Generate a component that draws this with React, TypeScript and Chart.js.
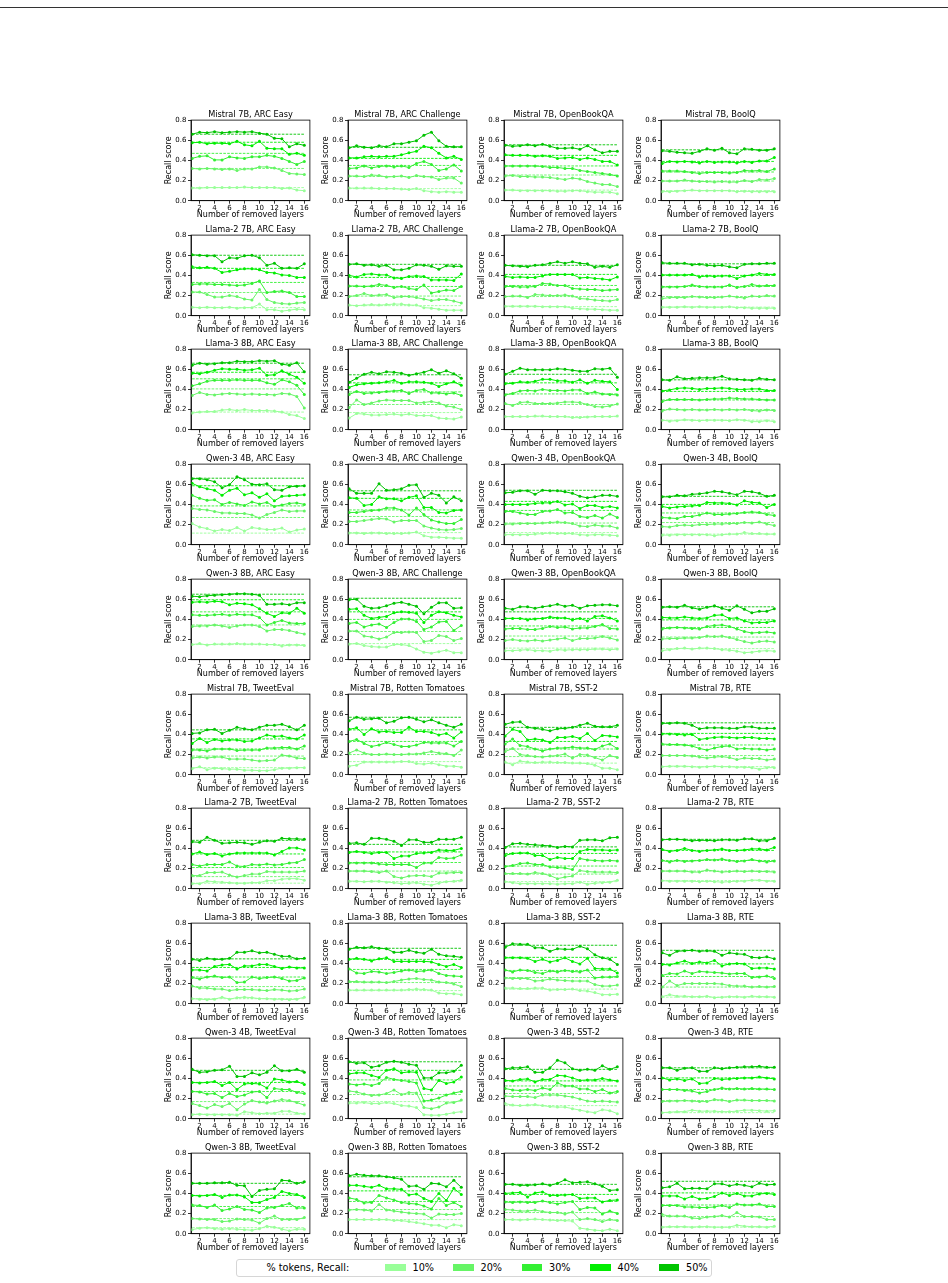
import React, { useEffect, useRef } from 'react';
import { Chart, registerables } from 'chart.js';

Chart.register(...registerables);

// ---- data ----
const layers = [1, 2, 3, 4, 5, 6, 7, 8, 9, 10, 11, 12, 13, 14, 15, 16];
const xTicks = [2, 4, 6, 8, 10, 12, 14, 16];
const yTicks = [0, 0.2, 0.4, 0.6, 0.8];
const tokenShares = ['10%', '20%', '30%', '40%', '50%'];
const models = ['Mistral 7B', 'Llama-2 7B', 'Llama-3 8B', 'Qwen-3 4B', 'Qwen-3 8B'];
const reasoningTasks = ['ARC Easy', 'ARC Challenge', 'OpenBookQA', 'BoolQ'];
const classificationTasks = ['TweetEval', 'Rotten Tomatoes', 'SST-2', 'RTE'];

// each panel: recall per removed-layer count, rows = 10%..50% tokens; *Base = dashed reference level
const mistralArcEasy = [
  [0.125, 0.125, 0.13, 0.13, 0.13, 0.13, 0.13, 0.135, 0.13, 0.13, 0.13, 0.13, 0.12, 0.125, 0.105, 0.1],
  [0.32, 0.315, 0.32, 0.315, 0.31, 0.315, 0.3, 0.315, 0.315, 0.335, 0.335, 0.325, 0.3, 0.27, 0.265, 0.26],
  [0.42, 0.44, 0.445, 0.405, 0.405, 0.435, 0.425, 0.42, 0.435, 0.435, 0.45, 0.44, 0.42, 0.39, 0.36, 0.39],
  [0.575, 0.58, 0.565, 0.57, 0.57, 0.565, 0.59, 0.555, 0.545, 0.59, 0.52, 0.515, 0.515, 0.46, 0.47, 0.45],
  [0.66, 0.68, 0.675, 0.685, 0.675, 0.68, 0.685, 0.68, 0.685, 0.67, 0.66, 0.62, 0.615, 0.535, 0.565, 0.55],
];
const mistralArcEasyBase = [0.13, 0.32, 0.47, 0.58, 0.66];

const mistralArcChallenge = [
  [0.125, 0.125, 0.125, 0.125, 0.12, 0.12, 0.12, 0.115, 0.11, 0.12, 0.1, 0.09, 0.085, 0.09, 0.085, 0.085],
  [0.245, 0.245, 0.24, 0.255, 0.25, 0.235, 0.24, 0.245, 0.23, 0.25, 0.24, 0.235, 0.21, 0.225, 0.225, 0.175],
  [0.32, 0.325, 0.345, 0.325, 0.34, 0.345, 0.335, 0.345, 0.33, 0.37, 0.39, 0.36, 0.3, 0.315, 0.355, 0.295],
  [0.425, 0.425, 0.435, 0.44, 0.435, 0.44, 0.44, 0.455, 0.475, 0.49, 0.54, 0.525, 0.47, 0.425, 0.44, 0.41],
  [0.525, 0.545, 0.53, 0.525, 0.545, 0.535, 0.565, 0.565, 0.58, 0.595, 0.65, 0.68, 0.595, 0.54, 0.535, 0.535],
];
const mistralArcChallengeBase = [0.12, 0.24, 0.35, 0.42, 0.53];

const mistralOpenBookQA = [
  [0.105, 0.105, 0.1, 0.1, 0.1, 0.1, 0.1, 0.095, 0.095, 0.1, 0.1, 0.09, 0.085, 0.085, 0.085, 0.07],
  [0.245, 0.25, 0.24, 0.24, 0.235, 0.235, 0.23, 0.22, 0.21, 0.225, 0.215, 0.19, 0.175, 0.16, 0.16, 0.14],
  [0.345, 0.345, 0.345, 0.345, 0.345, 0.34, 0.33, 0.33, 0.32, 0.32, 0.3, 0.29, 0.28, 0.27, 0.26, 0.245],
  [0.455, 0.45, 0.45, 0.45, 0.44, 0.445, 0.44, 0.42, 0.425, 0.43, 0.41, 0.425, 0.41, 0.39, 0.39, 0.355],
  [0.55, 0.54, 0.545, 0.555, 0.545, 0.56, 0.54, 0.52, 0.52, 0.525, 0.51, 0.545, 0.505, 0.475, 0.49, 0.49],
];
const mistralOpenBookQABase = [0.105, 0.255, 0.345, 0.45, 0.555];

const mistralBoolQ = [
  [0.09, 0.09, 0.095, 0.1, 0.105, 0.1, 0.1, 0.1, 0.1, 0.1, 0.09, 0.095, 0.09, 0.09, 0.09, 0.09],
  [0.195, 0.195, 0.195, 0.205, 0.195, 0.19, 0.19, 0.185, 0.19, 0.185, 0.185, 0.2, 0.19, 0.21, 0.205, 0.22],
  [0.295, 0.295, 0.295, 0.29, 0.28, 0.27, 0.28, 0.28, 0.28, 0.275, 0.28, 0.3, 0.295, 0.3, 0.29, 0.315],
  [0.37, 0.39, 0.385, 0.39, 0.385, 0.375, 0.39, 0.38, 0.385, 0.385, 0.375, 0.39, 0.38, 0.395, 0.395, 0.43],
  [0.495, 0.49, 0.48, 0.475, 0.47, 0.49, 0.515, 0.5, 0.52, 0.475, 0.465, 0.515, 0.51, 0.5, 0.5, 0.515],
];
const mistralBoolQBase = [0.1, 0.195, 0.285, 0.39, 0.505];

const llama2ArcEasy = [
  [0.085, 0.08, 0.085, 0.08, 0.08, 0.085, 0.075, 0.08, 0.08, 0.115, 0.06, 0.06, 0.045, 0.055, 0.065, 0.06],
  [0.235, 0.235, 0.21, 0.185, 0.185, 0.2, 0.19, 0.165, 0.155, 0.26, 0.16, 0.13, 0.12, 0.115, 0.125, 0.13],
  [0.31, 0.315, 0.315, 0.31, 0.31, 0.305, 0.3, 0.305, 0.32, 0.345, 0.23, 0.24, 0.245, 0.23, 0.19, 0.19],
  [0.485, 0.475, 0.48, 0.47, 0.43, 0.44, 0.455, 0.465, 0.465, 0.455, 0.43, 0.425, 0.405, 0.4, 0.38, 0.38],
  [0.605, 0.6, 0.595, 0.595, 0.535, 0.575, 0.57, 0.595, 0.6, 0.575, 0.5, 0.52, 0.47, 0.475, 0.47, 0.515],
];
const llama2ArcEasyBase = [0.08, 0.23, 0.33, 0.47, 0.6];

const llama2ArcChallenge = [
  [0.105, 0.1, 0.105, 0.11, 0.105, 0.11, 0.115, 0.115, 0.105, 0.105, 0.08, 0.075, 0.065, 0.055, 0.055, 0.055],
  [0.19, 0.2, 0.22, 0.2, 0.205, 0.21, 0.18, 0.19, 0.19, 0.18, 0.165, 0.15, 0.16, 0.16, 0.145, 0.125],
  [0.295, 0.295, 0.29, 0.295, 0.31, 0.3, 0.28, 0.29, 0.27, 0.26, 0.305, 0.225, 0.24, 0.255, 0.25, 0.29],
  [0.4, 0.385, 0.41, 0.415, 0.405, 0.405, 0.375, 0.37, 0.39, 0.395, 0.39, 0.355, 0.355, 0.355, 0.35, 0.415],
  [0.51, 0.515, 0.5, 0.505, 0.49, 0.5, 0.455, 0.455, 0.47, 0.505, 0.5, 0.49, 0.46, 0.495, 0.49, 0.49],
];
const llama2ArcChallengeBase = [0.1, 0.195, 0.29, 0.38, 0.51];

const llama2OpenBookQA = [
  [0.095, 0.095, 0.095, 0.095, 0.095, 0.09, 0.09, 0.09, 0.09, 0.075, 0.07, 0.065, 0.065, 0.06, 0.055, 0.055],
  [0.19, 0.195, 0.195, 0.18, 0.21, 0.205, 0.2, 0.2, 0.205, 0.195, 0.17, 0.165, 0.155, 0.15, 0.145, 0.16],
  [0.29, 0.29, 0.285, 0.285, 0.29, 0.32, 0.315, 0.3, 0.3, 0.27, 0.265, 0.26, 0.26, 0.25, 0.255, 0.26],
  [0.39, 0.38, 0.385, 0.38, 0.38, 0.395, 0.41, 0.41, 0.41, 0.41, 0.375, 0.38, 0.37, 0.365, 0.355, 0.385],
  [0.5, 0.495, 0.49, 0.485, 0.5, 0.505, 0.52, 0.535, 0.52, 0.535, 0.52, 0.515, 0.48, 0.49, 0.48, 0.505],
];
const llama2OpenBookQABase = [0.09, 0.19, 0.3, 0.41, 0.5];

const llama2BoolQ = [
  [0.085, 0.085, 0.085, 0.09, 0.085, 0.09, 0.085, 0.085, 0.085, 0.09, 0.08, 0.08, 0.075, 0.075, 0.075, 0.075],
  [0.17, 0.18, 0.18, 0.18, 0.19, 0.185, 0.18, 0.18, 0.185, 0.195, 0.185, 0.175, 0.195, 0.19, 0.2, 0.195],
  [0.285, 0.285, 0.285, 0.29, 0.305, 0.29, 0.285, 0.285, 0.285, 0.305, 0.28, 0.29, 0.31, 0.295, 0.3, 0.3],
  [0.405, 0.405, 0.405, 0.405, 0.41, 0.385, 0.395, 0.39, 0.395, 0.395, 0.37, 0.395, 0.405, 0.42, 0.41, 0.41],
  [0.525, 0.52, 0.52, 0.52, 0.505, 0.51, 0.5, 0.495, 0.5, 0.485, 0.475, 0.51, 0.515, 0.515, 0.52, 0.52],
];
const llama2BoolQBase = [0.085, 0.19, 0.29, 0.4, 0.515];

const llama3ArcEasy = [
  [0.165, 0.175, 0.18, 0.18, 0.195, 0.2, 0.19, 0.2, 0.19, 0.19, 0.19, 0.185, 0.175, 0.15, 0.14, 0.11],
  [0.34, 0.37, 0.35, 0.345, 0.355, 0.36, 0.355, 0.35, 0.355, 0.35, 0.35, 0.345, 0.36, 0.355, 0.33, 0.215],
  [0.435, 0.455, 0.48, 0.49, 0.49, 0.49, 0.495, 0.49, 0.49, 0.49, 0.465, 0.45, 0.495, 0.475, 0.44, 0.35],
  [0.56, 0.555, 0.57, 0.59, 0.605, 0.6, 0.6, 0.59, 0.595, 0.61, 0.54, 0.545, 0.585, 0.55, 0.52, 0.46],
  [0.64, 0.66, 0.65, 0.655, 0.665, 0.665, 0.68, 0.675, 0.675, 0.685, 0.68, 0.685, 0.65, 0.64, 0.665, 0.575],
];
const llama3ArcEasyBase = [0.175, 0.405, 0.505, 0.57, 0.66];

const llama3ArcChallenge = [
  [0.115, 0.16, 0.155, 0.145, 0.145, 0.15, 0.155, 0.145, 0.155, 0.14, 0.14, 0.14, 0.115, 0.11, 0.105, 0.125],
  [0.22, 0.295, 0.25, 0.265, 0.285, 0.295, 0.29, 0.29, 0.29, 0.265, 0.27, 0.28, 0.265, 0.235, 0.225, 0.2],
  [0.35, 0.38, 0.36, 0.365, 0.37, 0.38, 0.385, 0.39, 0.36, 0.39, 0.4, 0.365, 0.365, 0.355, 0.365, 0.34],
  [0.42, 0.445, 0.455, 0.46, 0.465, 0.475, 0.49, 0.46, 0.475, 0.475, 0.47, 0.46, 0.43, 0.455, 0.475, 0.44],
  [0.47, 0.51, 0.55, 0.57, 0.555, 0.575, 0.57, 0.56, 0.54, 0.555, 0.57, 0.595, 0.56, 0.585, 0.555, 0.51],
];
const llama3ArcChallengeBase = [0.17, 0.25, 0.375, 0.465, 0.545];

const llama3OpenBookQA = [
  [0.13, 0.13, 0.13, 0.13, 0.135, 0.135, 0.13, 0.13, 0.13, 0.12, 0.12, 0.125, 0.13, 0.13, 0.13, 0.135],
  [0.26, 0.24, 0.27, 0.275, 0.26, 0.26, 0.26, 0.265, 0.275, 0.275, 0.27, 0.25, 0.23, 0.225, 0.235, 0.255],
  [0.345, 0.36, 0.385, 0.39, 0.385, 0.4, 0.39, 0.39, 0.385, 0.395, 0.395, 0.36, 0.375, 0.355, 0.35, 0.345],
  [0.455, 0.46, 0.475, 0.47, 0.48, 0.5, 0.5, 0.485, 0.485, 0.47, 0.495, 0.46, 0.49, 0.48, 0.475, 0.4],
  [0.55, 0.58, 0.61, 0.595, 0.595, 0.595, 0.595, 0.605, 0.6, 0.59, 0.58, 0.58, 0.605, 0.6, 0.61, 0.52],
];
const llama3OpenBookQABase = [0.13, 0.25, 0.355, 0.465, 0.55];

const llama3BoolQ = [
  [0.095, 0.085, 0.09, 0.1, 0.095, 0.09, 0.095, 0.095, 0.095, 0.09, 0.1, 0.095, 0.08, 0.08, 0.09, 0.08],
  [0.185, 0.205, 0.2, 0.195, 0.2, 0.195, 0.195, 0.2, 0.195, 0.2, 0.195, 0.2, 0.19, 0.185, 0.195, 0.19],
  [0.28, 0.3, 0.3, 0.3, 0.3, 0.295, 0.3, 0.305, 0.305, 0.315, 0.31, 0.305, 0.305, 0.3, 0.295, 0.295],
  [0.385, 0.395, 0.41, 0.415, 0.41, 0.4, 0.41, 0.41, 0.415, 0.41, 0.4, 0.4, 0.405, 0.405, 0.39, 0.39],
  [0.495, 0.49, 0.525, 0.505, 0.51, 0.515, 0.515, 0.515, 0.53, 0.505, 0.5, 0.495, 0.49, 0.51, 0.5, 0.495],
];
const llama3BoolQBase = [0.095, 0.2, 0.295, 0.38, 0.495];

const qwen4ArcEasy = [
  [0.21, 0.175, 0.16, 0.135, 0.15, 0.14, 0.17, 0.135, 0.17, 0.16, 0.15, 0.15, 0.165, 0.125, 0.145, 0.155],
  [0.36, 0.35, 0.345, 0.33, 0.315, 0.315, 0.31, 0.31, 0.295, 0.265, 0.3, 0.32, 0.345, 0.33, 0.335, 0.335],
  [0.49, 0.46, 0.44, 0.445, 0.4, 0.42, 0.405, 0.39, 0.425, 0.405, 0.42, 0.38, 0.395, 0.41, 0.415, 0.4],
  [0.61, 0.575, 0.555, 0.54, 0.49, 0.54, 0.56, 0.495, 0.515, 0.47, 0.505, 0.435, 0.48, 0.485, 0.49, 0.495],
  [0.655, 0.655, 0.645, 0.625, 0.565, 0.595, 0.675, 0.645, 0.6, 0.595, 0.605, 0.545, 0.54, 0.575, 0.58, 0.585],
];
const qwen4ArcEasyBase = [0.115, 0.27, 0.385, 0.585, 0.66];

const qwen4ArcChallenge = [
  [0.115, 0.115, 0.11, 0.115, 0.115, 0.11, 0.11, 0.11, 0.115, 0.125, 0.09, 0.075, 0.075, 0.07, 0.065, 0.065],
  [0.23, 0.23, 0.24, 0.25, 0.26, 0.255, 0.225, 0.24, 0.24, 0.24, 0.185, 0.165, 0.15, 0.145, 0.15, 0.16],
  [0.32, 0.32, 0.33, 0.34, 0.345, 0.365, 0.365, 0.345, 0.295, 0.365, 0.3, 0.245, 0.225, 0.21, 0.21, 0.25],
  [0.465, 0.46, 0.39, 0.4, 0.475, 0.455, 0.455, 0.435, 0.47, 0.485, 0.37, 0.37, 0.32, 0.315, 0.34, 0.345],
  [0.555, 0.51, 0.51, 0.51, 0.605, 0.54, 0.545, 0.555, 0.59, 0.595, 0.47, 0.51, 0.49, 0.415, 0.475, 0.435],
];
const qwen4ArcChallengeBase = [0.12, 0.28, 0.345, 0.46, 0.535];

const qwen4OpenBookQA = [
  [0.1, 0.1, 0.1, 0.1, 0.105, 0.11, 0.115, 0.11, 0.11, 0.11, 0.1, 0.095, 0.1, 0.1, 0.095, 0.09],
  [0.205, 0.205, 0.21, 0.21, 0.21, 0.215, 0.22, 0.225, 0.22, 0.21, 0.185, 0.18, 0.195, 0.185, 0.185, 0.165],
  [0.33, 0.33, 0.315, 0.3, 0.3, 0.33, 0.335, 0.35, 0.315, 0.32, 0.28, 0.27, 0.29, 0.265, 0.305, 0.27],
  [0.4, 0.4, 0.4, 0.4, 0.41, 0.415, 0.415, 0.43, 0.395, 0.405, 0.36, 0.39, 0.39, 0.37, 0.38, 0.365],
  [0.515, 0.52, 0.535, 0.535, 0.5, 0.54, 0.535, 0.535, 0.525, 0.51, 0.48, 0.465, 0.475, 0.49, 0.49, 0.48],
];
const qwen4OpenBookQABase = [0.12, 0.215, 0.34, 0.43, 0.54];

const qwen4BoolQ = [
  [0.095, 0.095, 0.1, 0.1, 0.1, 0.1, 0.1, 0.09, 0.1, 0.105, 0.105, 0.12, 0.11, 0.11, 0.105, 0.105],
  [0.18, 0.175, 0.19, 0.195, 0.19, 0.2, 0.2, 0.205, 0.205, 0.21, 0.21, 0.22, 0.215, 0.225, 0.205, 0.19],
  [0.27, 0.265, 0.26, 0.28, 0.28, 0.295, 0.315, 0.3, 0.3, 0.305, 0.31, 0.32, 0.325, 0.32, 0.3, 0.29],
  [0.38, 0.365, 0.375, 0.38, 0.385, 0.39, 0.42, 0.415, 0.415, 0.41, 0.395, 0.435, 0.42, 0.415, 0.37, 0.4],
  [0.475, 0.475, 0.49, 0.485, 0.5, 0.505, 0.515, 0.53, 0.525, 0.51, 0.495, 0.53, 0.525, 0.51, 0.48, 0.49],
];
const qwen4BoolQBase = [0.105, 0.22, 0.315, 0.4, 0.48];

const qwen8ArcEasy = [
  [0.15, 0.16, 0.145, 0.155, 0.155, 0.155, 0.16, 0.155, 0.155, 0.155, 0.15, 0.15, 0.135, 0.145, 0.145, 0.14],
  [0.33, 0.335, 0.335, 0.345, 0.335, 0.32, 0.335, 0.345, 0.345, 0.33, 0.285, 0.3, 0.3, 0.29, 0.27, 0.255],
  [0.445, 0.44, 0.44, 0.445, 0.45, 0.44, 0.45, 0.445, 0.445, 0.42, 0.345, 0.37, 0.39, 0.365, 0.36, 0.36],
  [0.57, 0.575, 0.57, 0.58, 0.575, 0.545, 0.56, 0.555, 0.545, 0.505, 0.46, 0.43, 0.465, 0.46, 0.51, 0.46],
  [0.63, 0.625, 0.635, 0.64, 0.645, 0.65, 0.655, 0.655, 0.65, 0.64, 0.55, 0.55, 0.555, 0.545, 0.565, 0.565],
];
const qwen8ArcEasyBase = [0.15, 0.345, 0.475, 0.595, 0.65];

const qwen8ArcChallenge = [
  [0.155, 0.16, 0.14, 0.13, 0.125, 0.125, 0.15, 0.15, 0.14, 0.105, 0.075, 0.065, 0.08, 0.095, 0.07, 0.07],
  [0.285, 0.285, 0.235, 0.225, 0.205, 0.225, 0.27, 0.27, 0.275, 0.27, 0.18, 0.19, 0.24, 0.23, 0.19, 0.21],
  [0.36, 0.37, 0.325, 0.345, 0.355, 0.32, 0.37, 0.405, 0.405, 0.38, 0.3, 0.325, 0.375, 0.38, 0.29, 0.34],
  [0.5, 0.505, 0.44, 0.41, 0.42, 0.43, 0.465, 0.475, 0.47, 0.46, 0.37, 0.44, 0.475, 0.465, 0.44, 0.425],
  [0.595, 0.6, 0.53, 0.51, 0.515, 0.535, 0.56, 0.57, 0.55, 0.53, 0.455, 0.52, 0.565, 0.565, 0.51, 0.515],
];
const qwen8ArcChallengeBase = [0.16, 0.28, 0.4, 0.475, 0.61];

const qwen8OpenBookQA = [
  [0.09, 0.09, 0.095, 0.1, 0.09, 0.09, 0.085, 0.1, 0.095, 0.1, 0.1, 0.1, 0.105, 0.105, 0.1, 0.105],
  [0.19, 0.2, 0.19, 0.185, 0.195, 0.185, 0.195, 0.205, 0.215, 0.19, 0.21, 0.21, 0.215, 0.23, 0.215, 0.195],
  [0.305, 0.31, 0.31, 0.3, 0.3, 0.31, 0.33, 0.32, 0.325, 0.305, 0.315, 0.315, 0.33, 0.35, 0.31, 0.305],
  [0.41, 0.41, 0.41, 0.395, 0.405, 0.41, 0.425, 0.415, 0.415, 0.395, 0.41, 0.385, 0.43, 0.435, 0.415, 0.385],
  [0.51, 0.5, 0.525, 0.525, 0.51, 0.525, 0.535, 0.55, 0.53, 0.54, 0.51, 0.535, 0.54, 0.545, 0.545, 0.535],
];
const qwen8OpenBookQABase = [0.115, 0.235, 0.335, 0.41, 0.475];

const qwen8BoolQ = [
  [0.09, 0.1, 0.11, 0.115, 0.105, 0.115, 0.115, 0.11, 0.1, 0.095, 0.085, 0.07, 0.075, 0.085, 0.09, 0.085],
  [0.205, 0.21, 0.21, 0.215, 0.215, 0.22, 0.235, 0.23, 0.235, 0.22, 0.2, 0.18, 0.165, 0.18, 0.185, 0.175],
  [0.305, 0.315, 0.32, 0.315, 0.31, 0.305, 0.33, 0.34, 0.345, 0.33, 0.305, 0.28, 0.265, 0.27, 0.275, 0.265],
  [0.42, 0.415, 0.415, 0.425, 0.415, 0.41, 0.415, 0.44, 0.445, 0.41, 0.415, 0.385, 0.365, 0.37, 0.37, 0.385],
  [0.52, 0.525, 0.52, 0.54, 0.515, 0.5, 0.52, 0.535, 0.51, 0.49, 0.535, 0.5, 0.465, 0.48, 0.48, 0.505],
];
const qwen8BoolQBase = [0.11, 0.225, 0.32, 0.395, 0.525];

const mistralTweetEval = [
  [0.06, 0.08, 0.05, 0.065, 0.06, 0.055, 0.055, 0.045, 0.045, 0.04, 0.04, 0.05, 0.065, 0.065, 0.07, 0.07],
  [0.165, 0.175, 0.165, 0.175, 0.175, 0.155, 0.155, 0.155, 0.145, 0.135, 0.14, 0.145, 0.195, 0.185, 0.165, 0.16],
  [0.245, 0.245, 0.235, 0.255, 0.255, 0.255, 0.24, 0.245, 0.245, 0.245, 0.265, 0.265, 0.27, 0.27, 0.255, 0.285],
  [0.31, 0.36, 0.32, 0.35, 0.335, 0.345, 0.345, 0.33, 0.335, 0.365, 0.395, 0.38, 0.385, 0.365, 0.355, 0.395],
  [0.41, 0.415, 0.445, 0.45, 0.41, 0.44, 0.47, 0.455, 0.445, 0.47, 0.49, 0.49, 0.5, 0.475, 0.445, 0.49],
];
const mistralTweetEvalBase = [0.07, 0.185, 0.255, 0.355, 0.445];

const mistralRotten = [
  [0.085, 0.095, 0.125, 0.125, 0.125, 0.125, 0.125, 0.13, 0.13, 0.11, 0.105, 0.115, 0.1, 0.085, 0.085, 0.075],
  [0.215, 0.245, 0.215, 0.2, 0.2, 0.205, 0.2, 0.2, 0.205, 0.205, 0.215, 0.23, 0.215, 0.21, 0.19, 0.245],
  [0.33, 0.35, 0.31, 0.28, 0.295, 0.32, 0.3, 0.28, 0.28, 0.295, 0.32, 0.315, 0.315, 0.315, 0.285, 0.33],
  [0.45, 0.465, 0.4, 0.455, 0.425, 0.43, 0.42, 0.42, 0.47, 0.43, 0.43, 0.42, 0.395, 0.41, 0.365, 0.425],
  [0.535, 0.57, 0.55, 0.555, 0.56, 0.515, 0.53, 0.565, 0.57, 0.55, 0.525, 0.545, 0.515, 0.49, 0.47, 0.5],
];
const mistralRottenBase = [0.13, 0.2, 0.33, 0.445, 0.57];

const mistralSst2 = [
  [0.125, 0.1, 0.135, 0.125, 0.12, 0.125, 0.125, 0.12, 0.12, 0.115, 0.115, 0.11, 0.095, 0.065, 0.065, 0.05],
  [0.23, 0.26, 0.2, 0.19, 0.18, 0.175, 0.185, 0.19, 0.205, 0.165, 0.2, 0.195, 0.17, 0.145, 0.19, 0.17],
  [0.305, 0.355, 0.29, 0.28, 0.255, 0.235, 0.255, 0.265, 0.265, 0.275, 0.265, 0.265, 0.25, 0.285, 0.305, 0.26],
  [0.385, 0.45, 0.43, 0.345, 0.355, 0.345, 0.32, 0.37, 0.37, 0.38, 0.36, 0.41, 0.34, 0.39, 0.385, 0.375],
  [0.5, 0.52, 0.525, 0.47, 0.46, 0.45, 0.435, 0.455, 0.46, 0.47, 0.49, 0.51, 0.48, 0.475, 0.475, 0.49],
];
const mistralSst2Base = [0.115, 0.18, 0.255, 0.33, 0.47];

const mistralRte = [
  [0.08, 0.085, 0.085, 0.085, 0.08, 0.075, 0.08, 0.085, 0.08, 0.08, 0.075, 0.075, 0.07, 0.055, 0.07, 0.07],
  [0.19, 0.19, 0.19, 0.19, 0.185, 0.175, 0.165, 0.175, 0.18, 0.17, 0.15, 0.165, 0.16, 0.16, 0.145, 0.155],
  [0.305, 0.3, 0.3, 0.295, 0.285, 0.26, 0.245, 0.265, 0.28, 0.285, 0.255, 0.26, 0.255, 0.255, 0.245, 0.255],
  [0.405, 0.405, 0.4, 0.395, 0.4, 0.35, 0.36, 0.37, 0.375, 0.37, 0.365, 0.37, 0.37, 0.36, 0.36, 0.355],
  [0.51, 0.51, 0.515, 0.51, 0.49, 0.455, 0.465, 0.465, 0.465, 0.46, 0.46, 0.475, 0.475, 0.46, 0.46, 0.46],
];
const mistralRteBase = [0.08, 0.19, 0.295, 0.41, 0.515];

const llama2TweetEval = [
  [0.05, 0.05, 0.075, 0.07, 0.065, 0.06, 0.055, 0.055, 0.06, 0.06, 0.08, 0.08, 0.095, 0.1, 0.1, 0.085],
  [0.13, 0.13, 0.16, 0.16, 0.165, 0.135, 0.115, 0.13, 0.145, 0.145, 0.17, 0.165, 0.165, 0.165, 0.165, 0.175],
  [0.24, 0.225, 0.24, 0.24, 0.24, 0.265, 0.225, 0.22, 0.24, 0.235, 0.245, 0.235, 0.24, 0.255, 0.26, 0.29],
  [0.345, 0.365, 0.34, 0.35, 0.325, 0.345, 0.355, 0.355, 0.355, 0.355, 0.355, 0.335, 0.37, 0.405, 0.405, 0.385],
  [0.465, 0.46, 0.51, 0.48, 0.45, 0.455, 0.46, 0.455, 0.44, 0.46, 0.475, 0.47, 0.5, 0.495, 0.495, 0.49],
];
const llama2TweetEvalBase = [0.055, 0.12, 0.21, 0.345, 0.48];

const llama2Rotten = [
  [0.075, 0.075, 0.07, 0.075, 0.075, 0.065, 0.06, 0.05, 0.055, 0.06, 0.045, 0.035, 0.055, 0.07, 0.075, 0.085],
  [0.175, 0.175, 0.175, 0.17, 0.16, 0.175, 0.12, 0.105, 0.125, 0.13, 0.13, 0.12, 0.155, 0.155, 0.16, 0.16],
  [0.255, 0.255, 0.255, 0.255, 0.245, 0.24, 0.24, 0.24, 0.24, 0.21, 0.255, 0.255, 0.31, 0.3, 0.305, 0.335],
  [0.36, 0.37, 0.36, 0.35, 0.36, 0.36, 0.3, 0.325, 0.325, 0.35, 0.355, 0.36, 0.385, 0.38, 0.38, 0.4],
  [0.45, 0.455, 0.44, 0.5, 0.5, 0.49, 0.47, 0.43, 0.485, 0.485, 0.46, 0.46, 0.49, 0.49, 0.49, 0.51],
];
const llama2RottenBase = [0.07, 0.175, 0.26, 0.365, 0.44];

const llama2Sst2 = [
  [0.07, 0.06, 0.05, 0.05, 0.05, 0.05, 0.05, 0.045, 0.05, 0.05, 0.065, 0.045, 0.055, 0.06, 0.065, 0.085],
  [0.15, 0.15, 0.15, 0.145, 0.16, 0.15, 0.13, 0.1, 0.115, 0.125, 0.18, 0.17, 0.165, 0.165, 0.165, 0.16],
  [0.22, 0.23, 0.25, 0.255, 0.24, 0.24, 0.215, 0.21, 0.205, 0.19, 0.3, 0.285, 0.28, 0.275, 0.28, 0.275],
  [0.33, 0.35, 0.355, 0.355, 0.33, 0.33, 0.29, 0.31, 0.3, 0.3, 0.37, 0.39, 0.385, 0.385, 0.38, 0.385],
  [0.41, 0.445, 0.45, 0.44, 0.435, 0.43, 0.425, 0.41, 0.42, 0.415, 0.48, 0.485, 0.485, 0.475, 0.505, 0.51],
];
const llama2Sst2Base = [0.07, 0.145, 0.225, 0.35, 0.415];

const llama2Rte = [
  [0.08, 0.075, 0.075, 0.075, 0.075, 0.07, 0.075, 0.07, 0.065, 0.07, 0.075, 0.075, 0.085, 0.085, 0.075, 0.075],
  [0.175, 0.175, 0.175, 0.175, 0.165, 0.165, 0.185, 0.175, 0.165, 0.17, 0.175, 0.17, 0.175, 0.17, 0.17, 0.165],
  [0.28, 0.265, 0.28, 0.27, 0.275, 0.28, 0.29, 0.285, 0.295, 0.28, 0.27, 0.275, 0.29, 0.275, 0.265, 0.275],
  [0.39, 0.37, 0.38, 0.4, 0.38, 0.37, 0.38, 0.385, 0.395, 0.38, 0.38, 0.385, 0.395, 0.395, 0.385, 0.41],
  [0.485, 0.49, 0.49, 0.485, 0.475, 0.48, 0.48, 0.475, 0.485, 0.485, 0.48, 0.495, 0.495, 0.475, 0.475, 0.5],
];
const llama2RteBase = [0.08, 0.175, 0.28, 0.38, 0.49];

const llama3TweetEval = [
  [0.05, 0.045, 0.04, 0.045, 0.065, 0.045, 0.06, 0.065, 0.06, 0.05, 0.05, 0.045, 0.045, 0.04, 0.045, 0.065],
  [0.175, 0.155, 0.155, 0.145, 0.145, 0.13, 0.14, 0.14, 0.14, 0.135, 0.13, 0.14, 0.135, 0.125, 0.13, 0.145],
  [0.26, 0.245, 0.265, 0.275, 0.26, 0.265, 0.21, 0.215, 0.265, 0.25, 0.26, 0.265, 0.25, 0.225, 0.23, 0.255],
  [0.335, 0.335, 0.325, 0.37, 0.385, 0.39, 0.345, 0.375, 0.375, 0.39, 0.39, 0.37, 0.35, 0.365, 0.355, 0.355],
  [0.44, 0.43, 0.45, 0.44, 0.44, 0.45, 0.51, 0.51, 0.525, 0.505, 0.51, 0.49, 0.47, 0.47, 0.445, 0.45],
];
const llama3TweetEvalBase = [0.05, 0.17, 0.265, 0.36, 0.445];

const llama3Rotten = [
  [0.135, 0.135, 0.135, 0.135, 0.135, 0.135, 0.135, 0.135, 0.14, 0.145, 0.14, 0.135, 0.105, 0.1, 0.1, 0.09],
  [0.22, 0.22, 0.215, 0.215, 0.215, 0.21, 0.22, 0.235, 0.245, 0.25, 0.24, 0.235, 0.215, 0.21, 0.195, 0.17],
  [0.345, 0.305, 0.3, 0.32, 0.315, 0.3, 0.31, 0.325, 0.335, 0.32, 0.325, 0.335, 0.3, 0.28, 0.275, 0.27],
  [0.44, 0.45, 0.44, 0.425, 0.445, 0.455, 0.42, 0.42, 0.42, 0.42, 0.42, 0.415, 0.39, 0.37, 0.39, 0.36],
  [0.54, 0.56, 0.555, 0.565, 0.55, 0.545, 0.51, 0.51, 0.53, 0.51, 0.5, 0.54, 0.49, 0.475, 0.47, 0.46],
];
const llama3RottenBase = [0.13, 0.21, 0.34, 0.44, 0.55];

const llama3Sst2 = [
  [0.155, 0.155, 0.15, 0.15, 0.155, 0.155, 0.135, 0.14, 0.14, 0.145, 0.13, 0.125, 0.11, 0.09, 0.09, 0.095],
  [0.255, 0.25, 0.25, 0.25, 0.225, 0.23, 0.245, 0.235, 0.23, 0.225, 0.225, 0.225, 0.19, 0.175, 0.175, 0.185],
  [0.335, 0.315, 0.335, 0.33, 0.31, 0.3, 0.325, 0.315, 0.33, 0.32, 0.315, 0.335, 0.255, 0.265, 0.265, 0.27],
  [0.455, 0.455, 0.455, 0.45, 0.42, 0.44, 0.415, 0.43, 0.455, 0.42, 0.395, 0.45, 0.35, 0.345, 0.345, 0.305],
  [0.56, 0.595, 0.59, 0.59, 0.555, 0.555, 0.52, 0.545, 0.54, 0.54, 0.57, 0.545, 0.485, 0.455, 0.44, 0.39],
];
const llama3Sst2Base = [0.145, 0.26, 0.33, 0.46, 0.58];

const llama3Rte = [
  [0.07, 0.09, 0.075, 0.075, 0.07, 0.07, 0.075, 0.06, 0.065, 0.07, 0.07, 0.065, 0.075, 0.07, 0.07, 0.065],
  [0.165, 0.225, 0.18, 0.2, 0.2, 0.2, 0.2, 0.2, 0.195, 0.18, 0.175, 0.175, 0.165, 0.17, 0.165, 0.17],
  [0.28, 0.3, 0.295, 0.325, 0.3, 0.32, 0.315, 0.31, 0.305, 0.295, 0.3, 0.3, 0.26, 0.265, 0.275, 0.25],
  [0.39, 0.385, 0.405, 0.425, 0.4, 0.415, 0.405, 0.43, 0.375, 0.395, 0.4, 0.395, 0.35, 0.355, 0.355, 0.345],
  [0.505, 0.48, 0.52, 0.525, 0.53, 0.52, 0.525, 0.52, 0.48, 0.505, 0.495, 0.49, 0.46, 0.455, 0.465, 0.445],
];
const llama3RteBase = [0.065, 0.165, 0.27, 0.395, 0.53];

const qwen4TweetEval = [
  [0.04, 0.045, 0.04, 0.04, 0.04, 0.04, 0.035, 0.07, 0.06, 0.05, 0.055, 0.055, 0.075, 0.075, 0.055, 0.05],
  [0.15, 0.13, 0.105, 0.14, 0.12, 0.15, 0.09, 0.145, 0.18, 0.165, 0.155, 0.175, 0.19, 0.18, 0.16, 0.135],
  [0.27, 0.265, 0.245, 0.25, 0.21, 0.25, 0.22, 0.235, 0.265, 0.27, 0.21, 0.3, 0.29, 0.29, 0.26, 0.25],
  [0.36, 0.355, 0.36, 0.37, 0.33, 0.36, 0.29, 0.345, 0.35, 0.345, 0.305, 0.395, 0.385, 0.365, 0.37, 0.34],
  [0.49, 0.46, 0.465, 0.48, 0.485, 0.52, 0.42, 0.42, 0.455, 0.435, 0.46, 0.525, 0.475, 0.475, 0.49, 0.46],
];
const qwen4TweetEvalBase = [0.045, 0.17, 0.27, 0.36, 0.48];

const qwen4Rotten = [
  [0.155, 0.155, 0.16, 0.15, 0.15, 0.16, 0.15, 0.13, 0.125, 0.11, 0.04, 0.035, 0.035, 0.045, 0.06, 0.07],
  [0.275, 0.265, 0.245, 0.23, 0.235, 0.25, 0.285, 0.24, 0.26, 0.255, 0.11, 0.1, 0.115, 0.155, 0.16, 0.185],
  [0.345, 0.335, 0.345, 0.33, 0.35, 0.41, 0.39, 0.38, 0.37, 0.355, 0.175, 0.185, 0.205, 0.235, 0.255, 0.27],
  [0.445, 0.455, 0.455, 0.43, 0.41, 0.48, 0.495, 0.455, 0.465, 0.46, 0.3, 0.285, 0.38, 0.35, 0.365, 0.415],
  [0.565, 0.55, 0.555, 0.51, 0.525, 0.56, 0.57, 0.56, 0.54, 0.53, 0.405, 0.405, 0.455, 0.455, 0.47, 0.53],
];
const qwen4RottenBase = [0.17, 0.24, 0.385, 0.48, 0.565];

const qwen4Sst2 = [
  [0.15, 0.135, 0.13, 0.135, 0.14, 0.13, 0.12, 0.115, 0.115, 0.1, 0.085, 0.07, 0.06, 0.09, 0.08, 0.05],
  [0.225, 0.22, 0.22, 0.22, 0.21, 0.235, 0.235, 0.235, 0.225, 0.215, 0.195, 0.175, 0.17, 0.175, 0.17, 0.165],
  [0.3, 0.285, 0.28, 0.29, 0.28, 0.305, 0.29, 0.355, 0.325, 0.325, 0.295, 0.295, 0.27, 0.29, 0.255, 0.27],
  [0.38, 0.375, 0.39, 0.395, 0.365, 0.39, 0.39, 0.43, 0.425, 0.405, 0.38, 0.385, 0.385, 0.4, 0.385, 0.375],
  [0.495, 0.505, 0.505, 0.515, 0.46, 0.46, 0.505, 0.58, 0.555, 0.495, 0.48, 0.49, 0.48, 0.525, 0.49, 0.515],
];
const qwen4Sst2Base = [0.13, 0.25, 0.325, 0.375, 0.49];

const qwen4Rte = [
  [0.06, 0.065, 0.07, 0.07, 0.085, 0.075, 0.075, 0.075, 0.07, 0.07, 0.075, 0.085, 0.085, 0.08, 0.075, 0.08],
  [0.17, 0.175, 0.175, 0.18, 0.175, 0.17, 0.17, 0.19, 0.185, 0.17, 0.185, 0.185, 0.18, 0.18, 0.18, 0.175],
  [0.29, 0.29, 0.29, 0.28, 0.275, 0.255, 0.27, 0.29, 0.305, 0.295, 0.3, 0.295, 0.3, 0.295, 0.295, 0.29],
  [0.405, 0.385, 0.395, 0.38, 0.395, 0.35, 0.355, 0.4, 0.39, 0.395, 0.4, 0.405, 0.405, 0.415, 0.405, 0.395],
  [0.505, 0.505, 0.48, 0.5, 0.505, 0.47, 0.47, 0.505, 0.495, 0.505, 0.51, 0.515, 0.515, 0.52, 0.51, 0.51],
];
const qwen4RteBase = [0.06, 0.18, 0.29, 0.405, 0.505];

const qwen8TweetEval = [
  [0.04, 0.055, 0.06, 0.05, 0.045, 0.05, 0.045, 0.04, 0.035, 0.05, 0.075, 0.065, 0.045, 0.03, 0.045, 0.045],
  [0.15, 0.145, 0.14, 0.14, 0.12, 0.125, 0.145, 0.14, 0.135, 0.105, 0.15, 0.175, 0.14, 0.14, 0.14, 0.16],
  [0.285, 0.28, 0.26, 0.285, 0.23, 0.245, 0.27, 0.24, 0.235, 0.21, 0.255, 0.26, 0.28, 0.3, 0.255, 0.255],
  [0.38, 0.375, 0.38, 0.39, 0.36, 0.385, 0.385, 0.365, 0.31, 0.31, 0.34, 0.36, 0.42, 0.4, 0.39, 0.36],
  [0.5, 0.5, 0.5, 0.505, 0.505, 0.51, 0.48, 0.475, 0.37, 0.43, 0.44, 0.445, 0.53, 0.525, 0.5, 0.515],
];
const qwen8TweetEvalBase = [0.06, 0.15, 0.27, 0.38, 0.5];

const qwen8Rotten = [
  [0.14, 0.14, 0.14, 0.14, 0.14, 0.14, 0.13, 0.13, 0.12, 0.11, 0.1, 0.085, 0.085, 0.06, 0.09, 0.08],
  [0.235, 0.24, 0.235, 0.225, 0.29, 0.235, 0.225, 0.215, 0.205, 0.2, 0.195, 0.155, 0.195, 0.19, 0.19, 0.2],
  [0.355, 0.34, 0.305, 0.31, 0.38, 0.355, 0.335, 0.31, 0.3, 0.295, 0.275, 0.245, 0.35, 0.28, 0.31, 0.27],
  [0.48, 0.48, 0.47, 0.46, 0.48, 0.445, 0.445, 0.44, 0.385, 0.395, 0.35, 0.32, 0.4, 0.33, 0.45, 0.39],
  [0.575, 0.59, 0.58, 0.575, 0.575, 0.565, 0.555, 0.54, 0.47, 0.475, 0.44, 0.5, 0.495, 0.465, 0.53, 0.46],
];
const qwen8RottenBase = [0.14, 0.24, 0.32, 0.425, 0.565];

const qwen8Sst2 = [
  [0.14, 0.14, 0.135, 0.14, 0.145, 0.14, 0.135, 0.13, 0.13, 0.125, 0.055, 0.045, 0.035, 0.03, 0.045, 0.03],
  [0.24, 0.235, 0.225, 0.225, 0.235, 0.22, 0.21, 0.21, 0.195, 0.215, 0.14, 0.15, 0.14, 0.12, 0.14, 0.13],
  [0.315, 0.31, 0.315, 0.31, 0.31, 0.325, 0.31, 0.295, 0.31, 0.32, 0.24, 0.26, 0.255, 0.195, 0.225, 0.2],
  [0.4, 0.405, 0.41, 0.365, 0.405, 0.415, 0.38, 0.38, 0.385, 0.39, 0.35, 0.355, 0.355, 0.315, 0.33, 0.335],
  [0.49, 0.49, 0.48, 0.48, 0.485, 0.495, 0.48, 0.5, 0.535, 0.505, 0.51, 0.515, 0.495, 0.47, 0.43, 0.435],
];
const qwen8Sst2Base = [0.14, 0.21, 0.32, 0.39, 0.49];

const qwen8Rte = [
  [0.065, 0.07, 0.07, 0.07, 0.065, 0.07, 0.07, 0.065, 0.065, 0.065, 0.085, 0.075, 0.07, 0.07, 0.065, 0.075],
  [0.19, 0.175, 0.175, 0.175, 0.155, 0.15, 0.165, 0.17, 0.18, 0.165, 0.21, 0.17, 0.17, 0.165, 0.14, 0.14],
  [0.28, 0.28, 0.28, 0.265, 0.265, 0.26, 0.26, 0.265, 0.28, 0.26, 0.295, 0.285, 0.285, 0.295, 0.27, 0.27],
  [0.375, 0.375, 0.375, 0.345, 0.37, 0.345, 0.35, 0.37, 0.405, 0.38, 0.4, 0.375, 0.375, 0.395, 0.4, 0.39],
  [0.455, 0.465, 0.5, 0.445, 0.45, 0.45, 0.445, 0.495, 0.495, 0.475, 0.49, 0.48, 0.465, 0.5, 0.485, 0.49],
];
const qwen8RteBase = [0.065, 0.17, 0.285, 0.405, 0.52];

// grid order: rows = model (reasoning block, then classification block), cols = task
const reasoningRows = [
  [[mistralArcEasy, mistralArcEasyBase], [mistralArcChallenge, mistralArcChallengeBase], [mistralOpenBookQA, mistralOpenBookQABase], [mistralBoolQ, mistralBoolQBase]],
  [[llama2ArcEasy, llama2ArcEasyBase], [llama2ArcChallenge, llama2ArcChallengeBase], [llama2OpenBookQA, llama2OpenBookQABase], [llama2BoolQ, llama2BoolQBase]],
  [[llama3ArcEasy, llama3ArcEasyBase], [llama3ArcChallenge, llama3ArcChallengeBase], [llama3OpenBookQA, llama3OpenBookQABase], [llama3BoolQ, llama3BoolQBase]],
  [[qwen4ArcEasy, qwen4ArcEasyBase], [qwen4ArcChallenge, qwen4ArcChallengeBase], [qwen4OpenBookQA, qwen4OpenBookQABase], [qwen4BoolQ, qwen4BoolQBase]],
  [[qwen8ArcEasy, qwen8ArcEasyBase], [qwen8ArcChallenge, qwen8ArcChallengeBase], [qwen8OpenBookQA, qwen8OpenBookQABase], [qwen8BoolQ, qwen8BoolQBase]],
];
const classificationRows = [
  [[mistralTweetEval, mistralTweetEvalBase], [mistralRotten, mistralRottenBase], [mistralSst2, mistralSst2Base], [mistralRte, mistralRteBase]],
  [[llama2TweetEval, llama2TweetEvalBase], [llama2Rotten, llama2RottenBase], [llama2Sst2, llama2Sst2Base], [llama2Rte, llama2RteBase]],
  [[llama3TweetEval, llama3TweetEvalBase], [llama3Rotten, llama3RottenBase], [llama3Sst2, llama3Sst2Base], [llama3Rte, llama3RteBase]],
  [[qwen4TweetEval, qwen4TweetEvalBase], [qwen4Rotten, qwen4RottenBase], [qwen4Sst2, qwen4Sst2Base], [qwen4Rte, qwen4RteBase]],
  [[qwen8TweetEval, qwen8TweetEvalBase], [qwen8Rotten, qwen8RottenBase], [qwen8Sst2, qwen8Sst2Base], [qwen8Rte, qwen8RteBase]],
];

// ---- style / layout ----
const FONT = "'DejaVu Sans', 'Liberation Sans', sans-serif";
const shareColors = ['#99ff99', '#66f566', '#33f033', '#00ee00', '#00c400'];

const BOX_LEFT = 191.4;
const COL_STEP = 156.5;
const BOX_TOP = 120;
const ROW_STEP = 114.75;
const BOX_W = 118.9;
const Y_AXIS_W = 27;
const X_AXIS_H = 18.8;
const TOP_H = 11.1; // room for the panel title
const CANVAS_W = 150;
const CANVAS_H = 111;

// box on all four sides + title centred over the plot area (matplotlib style)
const framePlugin = {
  id: 'frame',
  afterDraw(chart: any, _args: any, opts: any) {
    const { ctx, chartArea: a } = chart;
    ctx.save();
    ctx.strokeStyle = '#000';
    ctx.lineWidth = 0.8;
    ctx.strokeRect(a.left, a.top, a.right - a.left, a.bottom - a.top);
    ctx.fillStyle = '#000';
    ctx.font = `8.2px ${FONT}`;
    ctx.textAlign = 'center';
    ctx.textBaseline = 'alphabetic';
    ctx.fillText(opts.text, (a.left + a.right) / 2, a.top - 3);
    ctx.restore();
  },
};

type PanelProps = { title: string; recall: number[][]; base: number[]; left: number; top: number };

const Panel: React.FC<PanelProps> = ({ title, recall, base, left, top }) => {
  const canvasRef = useRef<HTMLCanvasElement>(null);

  useEffect(() => {
    if (!canvasRef.current) return;
    const datasets: any[] = [];
    recall.forEach((vals, i) => {
      datasets.push({
        label: tokenShares[i],
        data: layers.map((x, j) => ({ x, y: vals[j] })),
        borderColor: shareColors[i],
        backgroundColor: shareColors[i],
        borderWidth: 1,
        pointRadius: 1.5,
        pointBorderWidth: 0,
        tension: 0,
      });
    });
    base.forEach((b, i) => {
      datasets.push({
        label: tokenShares[i] + ' ref',
        data: [{ x: layers[0], y: b }, { x: layers[layers.length - 1], y: b }],
        borderColor: shareColors[i],
        borderWidth: 0.9,
        borderDash: [2.6, 1.3],
        pointRadius: 0,
      });
    });

    const axisCommon = {
      grid: { drawOnChartArea: false, drawTicks: true, tickLength: 3, color: '#000', lineWidth: 0.8 },
      border: { display: true, color: '#000', width: 0.8 },
    };

    const chart = new Chart(canvasRef.current, {
      type: 'line',
      data: { datasets },
      options: {
        animation: false,
        responsive: false,
        events: [],
        layout: { padding: { top: TOP_H, right: CANVAS_W - Y_AXIS_W - BOX_W, bottom: 0.5, left: 0 } },
        plugins: {
          legend: { display: false },
          tooltip: { enabled: false },
          title: { display: false },
          frame: { text: title },
        },
        scales: {
          x: {
            type: 'linear',
            min: 0.85,
            max: 16.75,
            ...axisCommon,
            afterBuildTicks: (s: any) => { s.ticks = xTicks.map((v) => ({ value: v })); },
            afterFit: (s: any) => { s.height = X_AXIS_H; },
            ticks: { font: { size: 7, family: FONT }, color: '#000', padding: 0.5, maxRotation: 0, autoSkip: false },
            title: { display: true, text: 'Number of removed layers', color: '#000', font: { size: 8, family: FONT }, padding: { top: 0, bottom: 0 } },
          },
          y: {
            min: 0,
            max: 0.8,
            ...axisCommon,
            afterBuildTicks: (s: any) => { s.ticks = yTicks.map((v) => ({ value: v })); },
            afterFit: (s: any) => { s.width = Y_AXIS_W; },
            ticks: { font: { size: 7, family: FONT }, color: '#000', padding: 1.5, callback: (v: any) => Number(v).toFixed(1) },
            title: { display: true, text: 'Recall score', color: '#000', font: { size: 8, family: FONT }, padding: { top: 0.2, bottom: 0 } },
          },
        },
      } as any,
      plugins: [framePlugin],
    });
    return () => chart.destroy();
  }, [title, recall, base]);

  return (
    <canvas
      ref={canvasRef}
      width={CANVAS_W}
      height={CANVAS_H}
      style={{ position: 'absolute', left: left - Y_AXIS_W, top: top - TOP_H, width: CANVAS_W, height: CANVAS_H }}
    />
  );
};

const legendX = [385, 453, 521.5, 590, 658.5];

const App: React.FC = () => {
  const blocks: [string[], any[][]][] = [
    [reasoningTasks, reasoningRows],
    [classificationTasks, classificationRows],
  ];
  const panels: PanelProps[] = [];
  blocks.forEach(([tasks, rows], bi) => {
    rows.forEach((row, mi) => {
      row.forEach(([recall, base], ti) => {
        const r = bi * models.length + mi;
        panels.push({
          title: `${models[mi]}, ${tasks[ti]}`,
          recall,
          base,
          left: BOX_LEFT + ti * COL_STEP,
          top: BOX_TOP + r * ROW_STEP,
        });
      });
    });
  });

  return (
    <div style={{ position: 'absolute', left: 0, top: 0, width: 948, height: 1283, background: '#fff', fontFamily: FONT }}>
      <div style={{ position: 'absolute', left: 0, top: 7, width: 948, height: 1, background: '#333' }} />
      {panels.map((p) => (
        <Panel key={p.title} {...p} />
      ))}
      <div
        style={{
          position: 'absolute', left: 236, top: 1259, width: 474, height: 16,
          border: '1px solid #d6d6d6', borderRadius: 3, background: '#fff',
        }}
      />
      <div style={{ position: 'absolute', left: 266.5, top: 1259, height: 18, lineHeight: '18px', fontSize: 9.7, color: '#000', whiteSpace: 'nowrap' }}>
        % tokens, Recall:
      </div>
      {tokenShares.map((s, i) => (
        <React.Fragment key={s}>
          <div style={{ position: 'absolute', left: legendX[i], top: 1263.5, width: 20.5, height: 7, background: shareColors[i] }} />
          <div style={{ position: 'absolute', left: legendX[i] + 27.5, top: 1259, height: 18, lineHeight: '18px', fontSize: 9.7, color: '#000', whiteSpace: 'nowrap' }}>
            {s}
          </div>
        </React.Fragment>
      ))}
    </div>
  );
};

export default App;
